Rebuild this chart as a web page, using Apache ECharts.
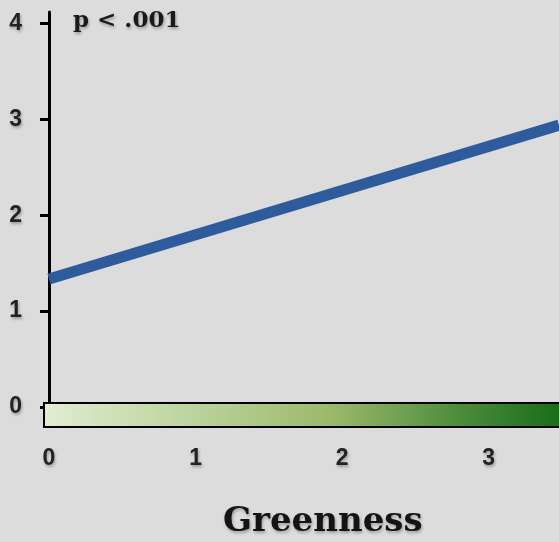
<!DOCTYPE html>
<html>
<head>
<meta charset="utf-8">
<script src="https://cdn.jsdelivr.net/npm/echarts@6/dist/echarts.min.js"></script>
<style>
  html, body { margin: 0; padding: 0; background: #dcdcdc; }
  #chart { width: 559px; height: 542px; }
</style>
</head>
<body>
<div id="chart"></div>
<script>
// fitted line: greenness -> outcome
var greenness = [0, 3.48];
var predicted = [1.335, 2.94];
var yTicks = [0, 1, 2, 3, 4];
var xTicks = [0, 1, 2, 3];
var pLabel = 'p < .001';
var xTitle = 'Greenness';

var shadow = {
    textShadowColor: 'rgba(0,0,0,0.3)',
    textShadowBlur: 3,
    textShadowOffsetX: 1,
    textShadowOffsetY: 2
};

var myChart = echarts.init(document.getElementById('chart'), null, { renderer: 'canvas' }),
    option;

option = {
    backgroundColor: '#dcdcdc',
    animation: false,
    grid: {
        left: 49,
        right: 0,
        top: 12,
        bottom: 135
    },
    title: [{
        text: pLabel,
        left: 68,
        top: 5,
        textStyle: Object.assign({
            fontFamily: 'DejaVu Serif',
            fontWeight: 'bold',
            fontSize: 23,
            color: '#1a1a1a'
        }, shadow)
    }, {
        text: xTitle,
        left: 218,
        top: 500,
        textStyle: Object.assign({
            fontFamily: 'DejaVu Serif',
            fontWeight: 'bold',
            fontSize: 34,
            color: '#141414'
        }, shadow)
    }],
    xAxis: {
        type: 'value',
        min: 0,
        max: 3.48,
        interval: 1,
        axisLine: { show: false },
        axisTick: { show: false },
        splitLine: { show: false },
        axisLabel: Object.assign({
            margin: 40,
            fontFamily: 'Liberation Sans',
            fontWeight: 'bold',
            fontSize: 23,
            color: '#222',
            showMaxLabel: false,
            formatter: function (v) { return xTicks.indexOf(v) > -1 ? String(v) : ''; }
        }, shadow)
    },
    yAxis: {
        type: 'value',
        min: 0,
        max: 4.12,
        interval: 1,
        axisLine: {
            show: true,
            onZero: false,
            lineStyle: { color: '#000', width: 3 }
        },
        axisTick: {
            show: true,
            length: 9,
            lineStyle: { color: '#000', width: 3 }
        },
        splitLine: { show: false },
        axisLabel: Object.assign({
            margin: 27,
            fontFamily: 'Liberation Sans',
            fontWeight: 'bold',
            fontSize: 23,
            color: '#222',
            showMaxLabel: false,
            formatter: function (v) { return yTicks.indexOf(v) > -1 ? String(v) : ''; }
        }, shadow)
    },
    series: [{
        type: 'line',
        data: greenness.map(function (g, i) { return [g, predicted[i]]; }),
        symbol: 'none',
        lineStyle: { color: '#2d5b9b', width: 11, cap: 'butt' },
        z: 3
    }],
    graphic: [{
        // greenness colour bar sitting under the plot
        type: 'rect',
        z: 10,
        shape: { x: 44, y: 403, width: 520, height: 24 },
        style: {
            fill: new echarts.graphic.LinearGradient(0, 0, 1, 0, [
                { offset: 0, color: '#e2ecd2' },
                { offset: 0.27, color: '#bed59f' },
                { offset: 0.55, color: '#9cb96b' },
                { offset: 0.8, color: '#4b8c3b' },
                { offset: 1, color: '#176b16' }
            ]),
            stroke: '#000',
            lineWidth: 2
        }
    }]
};

myChart.setOption(option);
</script>
</body>
</html>
